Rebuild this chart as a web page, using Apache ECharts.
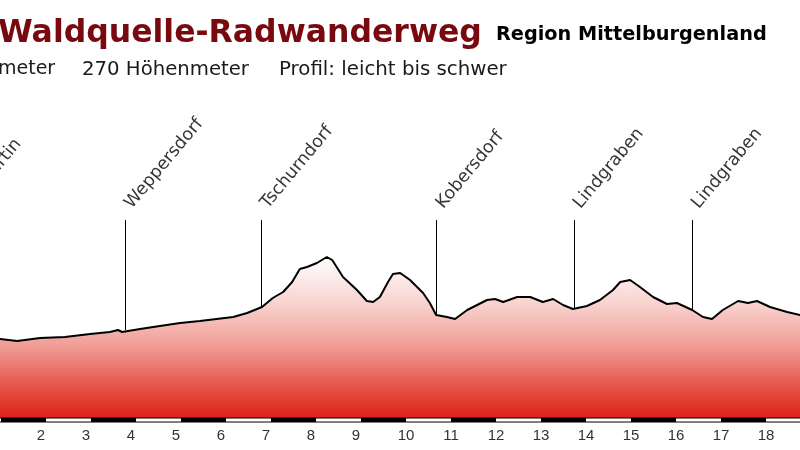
<!DOCTYPE html>
<html>
<head>
<meta charset="utf-8">
<script src="https://cdn.jsdelivr.net/npm/echarts@6/dist/echarts.min.js"></script>
<style>html,body{margin:0;padding:0;background:#fff;}#chart{width:800px;height:450px;}</style>
</head>
<body>
<div id="chart"></div>
<script>
// Profile: distance in km, elevation in m
const profileKm = [0, 0.5, 0.98, 1.36, 1.87, 2.42, 2.98, 3.42, 3.6, 3.69, 4.09, 4.53, 4.98, 5.42, 6.16, 6.47, 6.8, 7.04, 7.27, 7.47, 7.64, 7.8, 8.02, 8.24, 8.36, 8.6, 8.91, 9.13, 9.27, 9.42, 9.6, 9.71, 9.87, 10.09, 10.38, 10.53, 10.67, 10.91, 11.09, 11.36, 11.8, 11.98, 12.16, 12.47, 12.76, 13.04, 13.27, 13.49, 13.71, 14.02, 14.31, 14.6, 14.76, 14.98, 15.2, 15.49, 15.8, 16.02, 16.36, 16.6, 16.8, 17.04, 17.38, 17.6, 17.8, 18.09, 18.47, 18.76, 19];
const profileElev = [277, 277, 277, 275, 278, 279, 282, 284, 286, 284, 287, 290, 293, 295, 299, 303, 309, 318, 324, 334, 347, 349, 353, 359, 356, 339, 326, 315, 314, 319, 334, 342, 343, 336, 323, 313, 301, 299, 297, 306, 316, 317, 314, 319, 319, 314, 317, 311, 307, 310, 316, 326, 334, 336, 329, 319, 312, 313, 306, 299, 297, 306, 315, 313, 315, 309, 304, 301, 299];

// Places along the route
const placeNames = ['St. Martin', 'Weppersdorf', 'Tschurndorf', 'Kobersdorf', 'Lindgraben', 'Lindgraben'];
const placeKm = [0.1, 3.76, 6.78, 10.68, 13.73, 16.36];
const placeElev = [277, 286, 309, 301, 307, 306];
const placeLineTop = 396;

// Kilometre scale bar: white segments
const scaleWhite = [[0, 1], [2, 3], [4, 5], [6, 7], [8, 9], [10, 11], [12, 13], [14, 15], [16, 17], [18, 19]];
const scaleRange = [0, 19];

const titleText = 'Waldquelle-Radwanderweg';
const regionText = 'Region Mittelburgenland';
const infoTexts = ['meter', '270 Höhenmeter', 'Profil: leicht bis schwer'];

const X_MIN = 0, X_MAX = 19, Y_MIN = 196, Y_MAX = 600;

const profileData = profileKm.map((k, i) => [k, profileElev[i]]);
const whiteData = [];
scaleWhite.forEach(s => { whiteData.push([s[0], Y_MIN], [s[1], Y_MIN], [s[1], '-']); });
const placeData = placeKm.map((k, i) => ({ value: [k, placeLineTop], name: placeNames[i] }));
const placeLines = placeKm.map((k, i) => [{ coord: [k, placeLineTop] }, { coord: [k, placeElev[i]] }]);

const chart = echarts.init(document.getElementById('chart'), null, { renderer: 'canvas' });
chart.setOption({
  animation: false,
  backgroundColor: '#ffffff',
  title: [
    { text: titleText, left: -2, top: 18, padding: 0,
      textStyle: { fontFamily: 'DejaVu Sans', fontWeight: 'bold', fontSize: 31.5, color: '#780a0f' } },
    { text: regionText, left: 496, top: 25, padding: 0,
      textStyle: { fontFamily: 'DejaVu Sans', fontWeight: 'bold', fontSize: 19.3, color: '#000' } },
    { text: infoTexts[0], left: -2, top: 60, padding: 0,
      textStyle: { fontFamily: 'DejaVu Sans', fontWeight: 'normal', fontSize: 19, color: '#1a1a1a' } },
    { text: infoTexts[1], left: 82, top: 60, padding: 0,
      textStyle: { fontFamily: 'DejaVu Sans', fontWeight: 'normal', fontSize: 19.7, color: '#1a1a1a' } },
    { text: infoTexts[2], left: 279, top: 60, padding: 0,
      textStyle: { fontFamily: 'DejaVu Sans', fontWeight: 'normal', fontSize: 19.8, color: '#1a1a1a' } }
  ],
  grid: { left: -44, right: -11, top: 16, bottom: 30, containLabel: false, outerBoundsMode: 'none' },
  xAxis: {
    type: 'value', min: X_MIN, max: X_MAX, interval: 1,
    axisLine: { show: false }, axisTick: { show: false }, splitLine: { show: false },
    axisLabel: {
      margin: 8, color: '#333', fontSize: 15, fontFamily: 'Liberation Sans',
      showMinLabel: true, showMaxLabel: true, hideOverlap: false,
      formatter: v => (v < 10 ? '{a|' + v + '}' : '{b|' + v + '}'),
      rich: {
        a: { fontSize: 15, fontFamily: 'Liberation Sans', color: '#333', padding: [0, 10, 0, 0] },
        b: { fontSize: 15, fontFamily: 'Liberation Sans', color: '#333' }
      }
    }
  },
  yAxis: { type: 'value', min: Y_MIN, max: Y_MAX, show: false },
  series: [
    {
      type: 'line', data: profileData, symbol: 'none', z: 3,
      lineStyle: { color: '#000', width: 2 },
      areaStyle: {
        opacity: 1,
        color: new echarts.graphic.LinearGradient(0, 0, 0, 1, [
          { offset: 0, color: '#ffffff' },
          { offset: 0.3, color: '#f8d0cc' },
          { offset: 0.55, color: '#f09c94' },
          { offset: 0.8, color: '#e55248' },
          { offset: 1, color: '#dc2016' }
        ])
      }
    },
    {
      type: 'line', data: [[scaleRange[0], Y_MIN], [scaleRange[1], Y_MIN]], symbol: 'none', clip: false, z: 4,
      lineStyle: { color: '#000', width: 5 }, silent: true
    },
    {
      type: 'line', data: whiteData, symbol: 'none', clip: false, z: 5, connectNulls: false,
      lineStyle: { color: '#fff', width: 3 }, silent: true
    },
    {
      type: 'scatter', data: placeData, symbol: 'circle', symbolSize: 2, z: 6, clip: false,
      itemStyle: { color: 'rgba(0,0,0,0)' },
      label: {
        show: true, formatter: p => p.name, position: [11, -7], rotate: 50,
        align: 'left', verticalAlign: 'bottom',
        fontFamily: 'DejaVu Sans', fontSize: 17.5, color: '#000'
      },
      markLine: {
        silent: true, symbol: 'none', label: { show: false },
        lineStyle: { color: '#000', width: 1, type: 'solid' },
        data: placeLines
      }
    }
  ]
});
</script>
</body>
</html>
